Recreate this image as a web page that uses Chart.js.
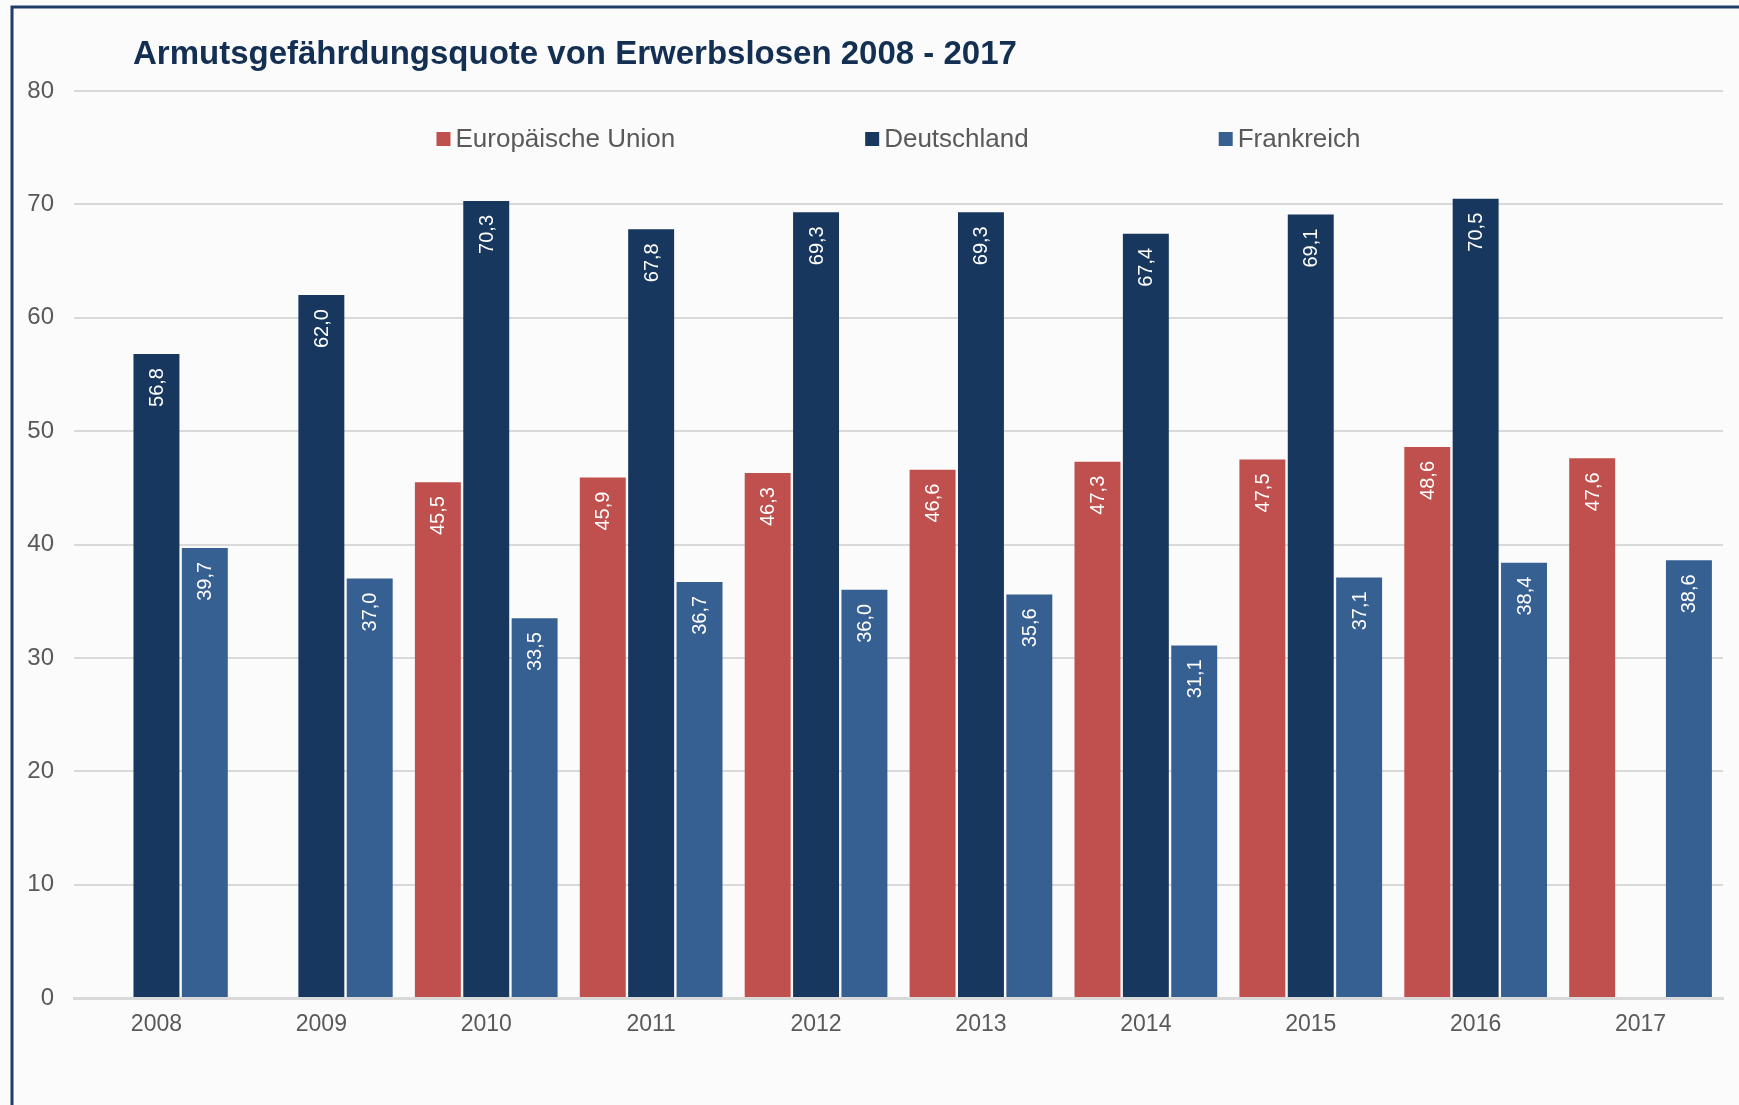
<!DOCTYPE html>
<html lang="de">
<head>
<meta charset="utf-8">
<title>Armutsgefährdungsquote von Erwerbslosen 2008 - 2017</title>
<script src="https://cdn.jsdelivr.net/npm/chart.js@4"></script>
<style>
  html, body { margin: 0; padding: 0; background: #fbfbfb; overflow: hidden; }
  canvas { display: block; }
</style>
</head>
<body>
<canvas id="chart" width="1739" height="1105"></canvas>
<script>
// Daten
const jahre = ['2008', '2009', '2010', '2011', '2012', '2013', '2014', '2015', '2016', '2017'];
const europaeischeUnion = [null, null, 45.5, 45.9, 46.3, 46.6, 47.3, 47.5, 48.6, 47.6];
const deutschland = [56.8, 62.0, 70.3, 67.8, 69.3, 69.3, 67.4, 69.1, 70.5, null];
const frankreich = [39.7, 37.0, 33.5, 36.7, 36.0, 35.6, 31.1, 37.1, 38.4, 38.6];
const yTicks = [0, 10, 20, 30, 40, 50, 60, 70, 80];

const titel = 'Armutsgefährdungsquote von Erwerbslosen 2008 - 2017';
const schrift = '"Liberation Sans", Arial, sans-serif';
const grau = '#595959';

// Rahmen, Titel und Legende selbst zeichnen
const rahmenPlugin = {
    id: 'rahmen',
    beforeDraw(chart) {
        const ctx = chart.ctx;
        ctx.save();
        ctx.fillStyle = '#fbfbfb';
        ctx.fillRect(0, 0, chart.width, chart.height);
        ctx.strokeStyle = '#1f3d66';
        ctx.lineWidth = 3;
        ctx.beginPath();
        ctx.moveTo(12, chart.height + 5);
        ctx.lineTo(12, 7);
        ctx.lineTo(chart.width + 5, 7);
        ctx.stroke();

        ctx.fillStyle = '#132f52';
        ctx.font = 'bold 33px ' + schrift;
        ctx.textBaseline = 'middle';
        ctx.textAlign = 'left';
        ctx.fillText(titel, 133, 55);
        ctx.restore();
    },
    afterDatasetsDraw(chart) {
        const ctx = chart.ctx;
        ctx.save();
        // Werte in den Balken
        ctx.font = '20px ' + schrift;
        ctx.fillStyle = '#ffffff';
        ctx.textAlign = 'right';
        ctx.textBaseline = 'middle';
        chart.data.datasets.forEach((ds, i) => {
            const meta = chart.getDatasetMeta(i);
            meta.data.forEach((bar, j) => {
                const v = ds.data[j];
                if (v === null) return;
                ctx.save();
                ctx.translate(bar.x, bar.y + 14);
                ctx.rotate(-Math.PI / 2);
                ctx.fillText(v.toFixed(1).replace('.', ','), 0, 1);
                ctx.restore();
            });
        });

        // Legende
        const area = chart.chartArea;
        ctx.font = '26px ' + schrift;
        ctx.textAlign = 'left';
        const abstand = 190;
        const box = 14;
        const items = chart.data.datasets.map(ds => ({
            text: ds.label,
            color: ds.backgroundColor,
            w: 19 + ctx.measureText(ds.label).width
        }));
        const total = items.reduce((s, it) => s + it.w, 0) + abstand * (items.length - 1);
        let x = (area.left + area.right) / 2 - total / 2;
        const y = 139;
        items.forEach(it => {
            ctx.fillStyle = it.color;
            ctx.fillRect(x, y - box / 2, box, box);
            ctx.fillStyle = grau;
            ctx.fillText(it.text, x + 19, y + 1);
            x += it.w + abstand;
        });
        ctx.restore();
    }
};

new Chart(document.getElementById('chart'), {
    type: 'bar',
    data: {
        labels: jahre,
        datasets: [
            { label: 'Europäische Union', data: europaeischeUnion, backgroundColor: '#c0504d' },
            { label: 'Deutschland', data: deutschland, backgroundColor: '#17375e' },
            { label: 'Frankreich', data: frankreich, backgroundColor: '#376092' }
        ]
    },
    options: {
        responsive: false,
        animation: false,
        events: [],
        datasets: {
            bar: { categoryPercentage: 0.88, barPercentage: 0.95 }
        },
        layout: { padding: { top: 91, right: 16, left: 0, bottom: 0 } },
        plugins: {
            legend: { display: false },
            title: { display: false },
            tooltip: { enabled: false }
        },
        scales: {
            x: {
                grid: { display: false },
                border: { color: '#d9d9d9', width: 3 },
                ticks: { color: grau, font: { family: schrift, size: 23 }, padding: 5 },
                afterFit(s) { s.height = 107; }
            },
            y: {
                min: 0,
                max: 80,
                afterBuildTicks(s) { s.ticks = yTicks.map(v => ({ value: v })); },
                grid: { color: '#d9d9d9', lineWidth: 2, drawTicks: false },
                border: { display: false },
                ticks: { color: grau, font: { family: schrift, size: 24 }, padding: 20 },
                afterFit(s) { s.width = 74; }
            }
        }
    },
    plugins: [rahmenPlugin]
});
</script>
</body>
</html>
